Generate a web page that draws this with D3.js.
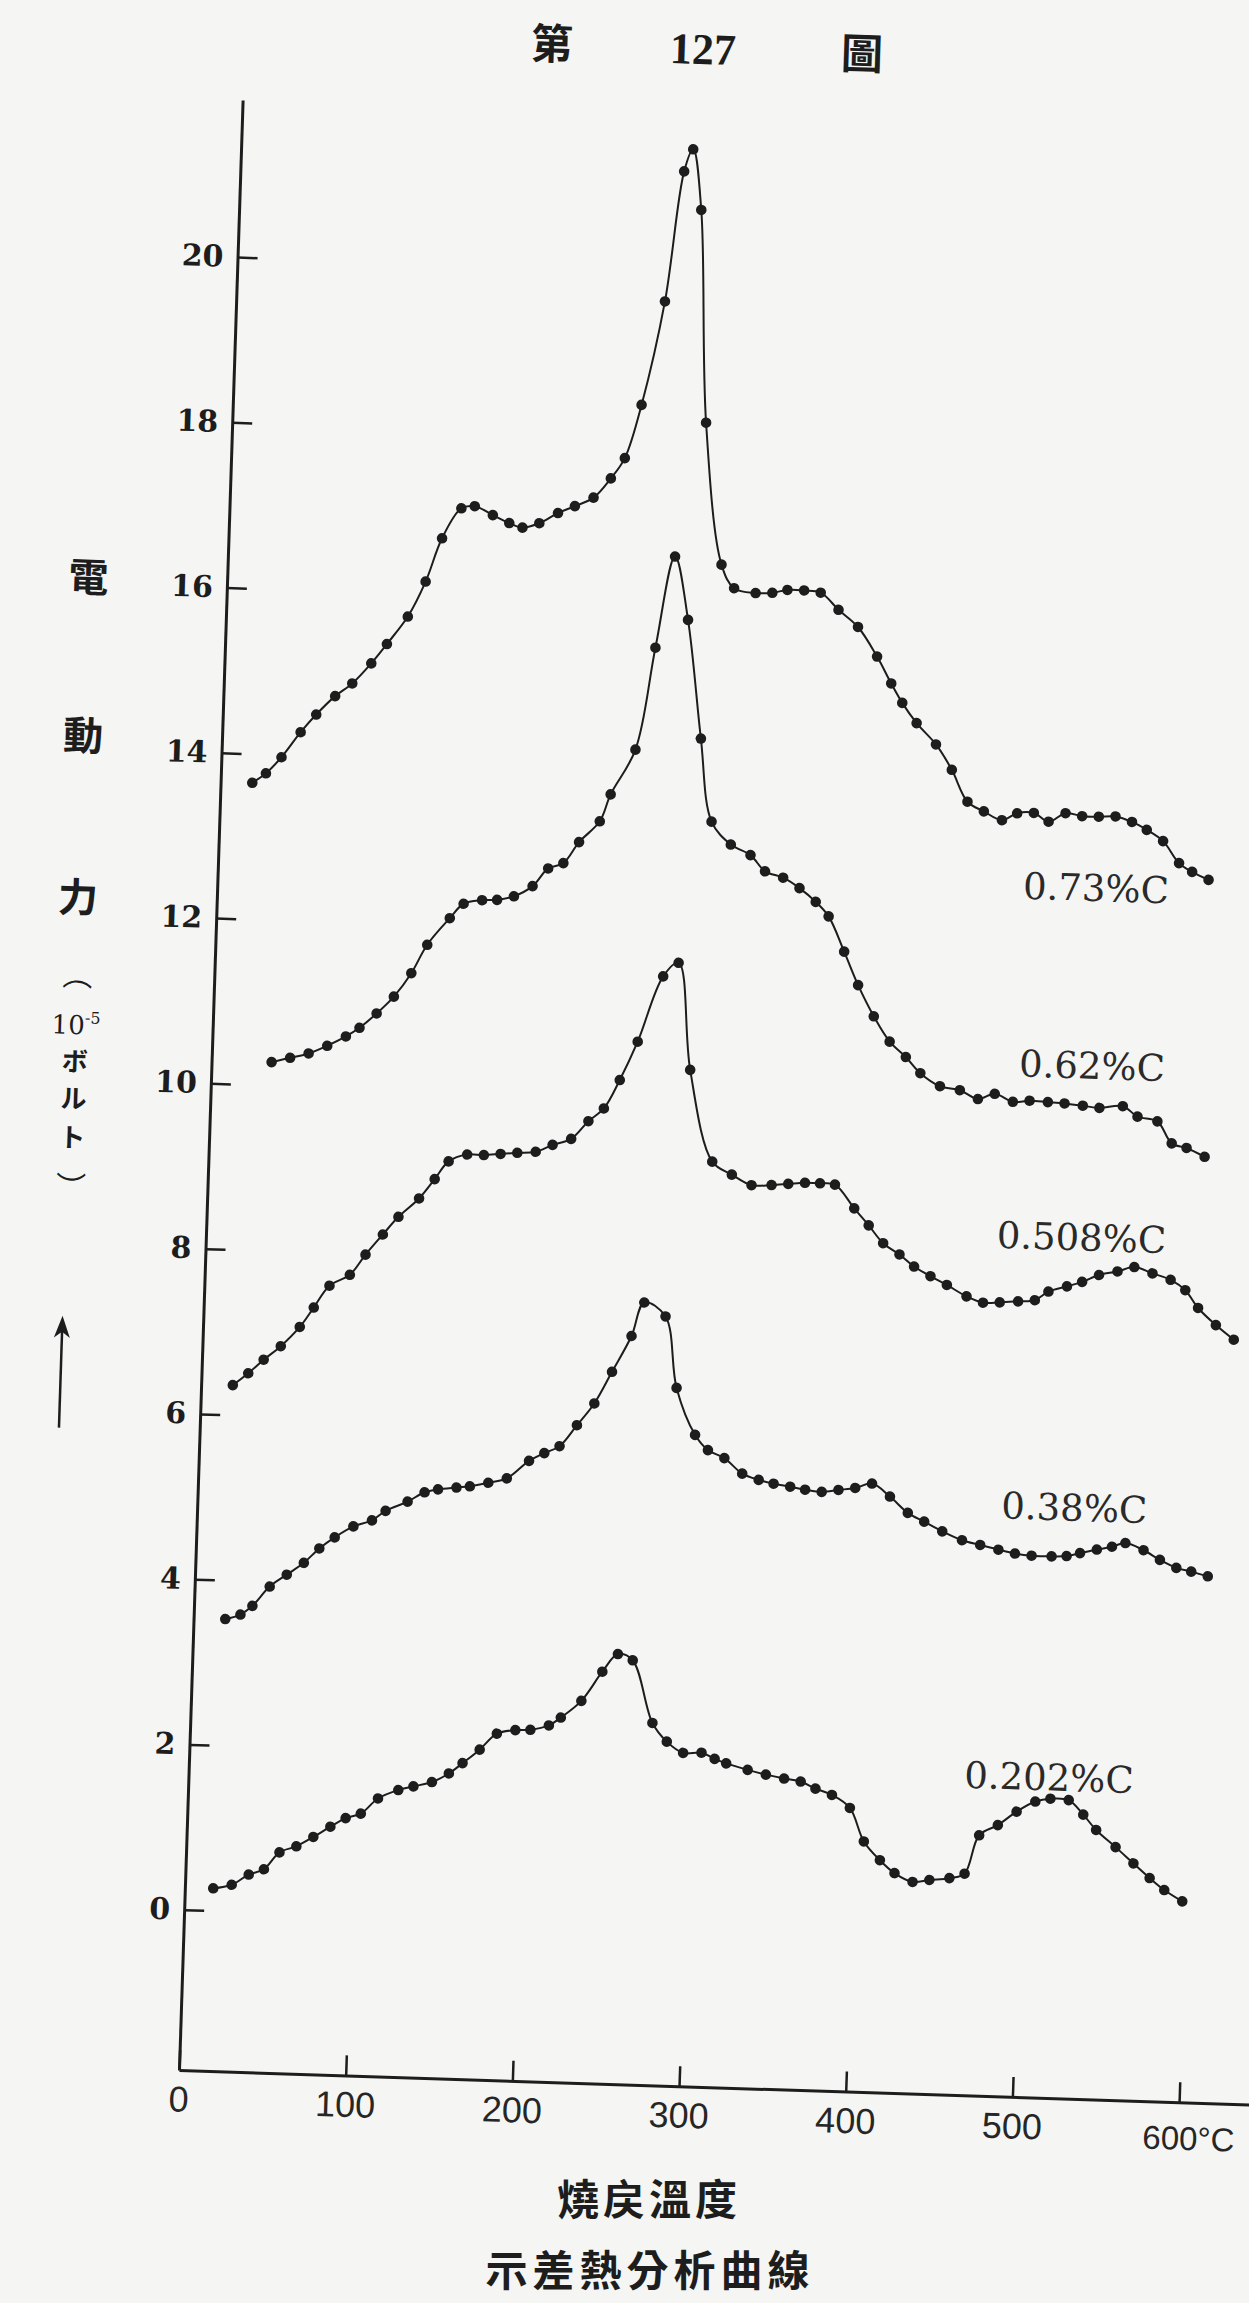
<!DOCTYPE html>
<html>
<head>
<meta charset="utf-8">
<script src="https://cdn.jsdelivr.net/npm/d3@7"></script>
<style>
  html, body { margin: 0; padding: 0; background: #f5f5f3; }
  svg { display: block; }
</style>
</head>
<body>
<svg id="chart" width="1249" height="2303"></svg>
<script>
// Differential thermal analysis of tempered carbon steels.
// Temperature (°C) and e.m.f. (10^-5 V) readings for each steel.

const seriesNames = ["0.73%C", "0.62%C", "0.508%C", "0.38%C", "0.202%C"];

const temp073 = [19, 27, 36, 47, 56, 67, 77, 88, 97, 109, 119, 128, 139, 147, 158, 168, 176, 186, 197, 207, 218, 228, 236, 245, 257, 266, 271, 277, 284, 296, 304, 317, 327, 336, 346, 356, 367, 379, 391, 400, 407, 416, 428, 438, 448, 458, 469, 478, 488, 497, 507, 517, 527, 537, 547, 556, 566, 576, 584, 594];
const emf073  = [13.65, 13.77, 13.97, 14.28, 14.50, 14.73, 14.89, 15.14, 15.38, 15.72, 16.15, 16.68, 17.05, 17.08, 16.98, 16.89, 16.84, 16.90, 17.03, 17.12, 17.23, 17.47, 17.72, 18.37, 19.63, 21.21, 21.48, 20.75, 18.18, 16.47, 16.19, 16.14, 16.15, 16.19, 16.19, 16.17, 15.97, 15.77, 15.42, 15.10, 14.87, 14.63, 14.38, 14.08, 13.70, 13.59, 13.49, 13.58, 13.59, 13.49, 13.60, 13.57, 13.57, 13.58, 13.52, 13.43, 13.30, 13.04, 12.94, 12.85];

const temp062 = [36, 47, 58, 69, 80, 88, 98, 108, 118, 127, 140, 148, 159, 168, 178, 189, 198, 207, 216, 228, 234, 248, 258, 268, 277, 287, 295, 307, 319, 328, 339, 349, 359, 367, 377, 386, 396, 406, 416, 425, 437, 449, 460, 470, 481, 491, 502, 512, 523, 533, 547, 556, 568, 577, 586, 597];
const emf062  = [10.28, 10.34, 10.40, 10.50, 10.62, 10.73, 10.91, 11.12, 11.41, 11.76, 12.09, 12.27, 12.32, 12.33, 12.38, 12.51, 12.73, 12.80, 13.06, 13.32, 13.65, 14.20, 15.44, 16.55, 15.79, 14.36, 13.36, 13.09, 12.97, 12.78, 12.71, 12.59, 12.43, 12.26, 11.84, 11.44, 11.07, 10.77, 10.59, 10.40, 10.25, 10.21, 10.11, 10.18, 10.09, 10.11, 10.10, 10.09, 10.07, 10.05, 10.08, 9.96, 9.91, 9.65, 9.60, 9.50];

const temp0508 = [19, 28, 37, 47, 58, 66, 75, 87, 96, 106, 115, 127, 136, 144, 155, 165, 175, 185, 196, 206, 217, 227, 236, 245, 255, 269, 278, 287, 302, 314, 326, 338, 348, 358, 367, 376, 388, 397, 406, 416, 425, 435, 445, 457, 467, 477, 488, 498, 506, 517, 526, 536, 547, 557, 568, 579, 588, 596, 607, 618];
const emf0508  = [6.36, 6.51, 6.68, 6.85, 7.09, 7.33, 7.60, 7.74, 7.99, 8.24, 8.46, 8.69, 8.93, 9.15, 9.24, 9.24, 9.26, 9.28, 9.30, 9.39, 9.47, 9.69, 9.85, 10.20, 10.67, 11.47, 11.64, 10.35, 9.25, 9.10, 8.98, 8.99, 9.01, 9.03, 9.03, 9.02, 8.74, 8.54, 8.33, 8.20, 8.06, 7.95, 7.85, 7.72, 7.65, 7.66, 7.68, 7.70, 7.81, 7.88, 7.94, 8.03, 8.08, 8.14, 8.07, 8.00, 7.88, 7.67, 7.47, 7.30];

const temp038 = [19, 28, 35, 45, 55, 65, 74, 83, 94, 105, 113, 126, 136, 144, 155, 163, 174, 185, 198, 207, 216, 226, 236, 246, 257, 264, 277, 285, 297, 305, 315, 326, 336, 345, 355, 364, 374, 384, 394, 404, 415, 426, 436, 447, 459, 470, 481, 491, 501, 513, 522, 530, 540, 549, 557, 568, 578, 588, 597, 607];
const emf038  = [3.53, 3.59, 3.70, 3.94, 4.09, 4.24, 4.42, 4.56, 4.70, 4.78, 4.90, 5.02, 5.14, 5.18, 5.21, 5.23, 5.28, 5.34, 5.56, 5.66, 5.75, 6.01, 6.28, 6.67, 7.11, 7.52, 7.36, 6.50, 5.94, 5.76, 5.67, 5.49, 5.42, 5.38, 5.35, 5.32, 5.30, 5.33, 5.36, 5.42, 5.27, 5.08, 4.98, 4.87, 4.77, 4.72, 4.67, 4.63, 4.61, 4.61, 4.62, 4.66, 4.71, 4.75, 4.80, 4.72, 4.61, 4.52, 4.48, 4.43];

const temp0202 = [17, 28, 38, 47, 56, 66, 76, 86, 95, 104, 114, 126, 135, 146, 156, 164, 174, 184, 195, 204, 215, 222, 234, 246, 255, 264, 277, 286, 296, 307, 315, 322, 335, 346, 357, 367, 376, 386, 397, 406, 416, 425, 436, 446, 458, 467, 475, 486, 497, 508, 517, 528, 537, 545, 557, 568, 578, 587, 598];
const emf0202  = [0.27, 0.32, 0.45, 0.52, 0.73, 0.81, 0.93, 1.06, 1.17, 1.23, 1.42, 1.53, 1.58, 1.64, 1.75, 1.88, 2.05, 2.25, 2.30, 2.31, 2.37, 2.47, 2.68, 3.04, 3.26, 3.19, 2.44, 2.22, 2.09, 2.10, 2.03, 1.98, 1.91, 1.86, 1.82, 1.79, 1.71, 1.64, 1.49, 1.09, 0.87, 0.72, 0.62, 0.65, 0.68, 0.74, 1.21, 1.34, 1.51, 1.64, 1.68, 1.67, 1.50, 1.32, 1.12, 0.93, 0.76, 0.62, 0.49];

const xTickValues = [0, 100, 200, 300, 400, 500, 600];
const yTickValues = [0, 2, 4, 6, 8, 10, 12, 14, 16, 18, 20];

// ---- layout ----
const W = 1249, H = 2303;
const ink = "#1d1d1d";
const tilt = 1.85;               // the printed plate sits slightly askew
const origin = [179, 2070];      // lower-left corner of the axes

const series = [
  { name: seriesNames[0], t: temp073,  v: emf073,  label: [483, 12.55] },
  { name: seriesNames[1], t: temp062,  v: emf062,  label: [484, 10.40] },
  { name: seriesNames[2], t: temp0508, v: emf0508, label: [474, 8.32] },
  { name: seriesNames[3], t: temp038,  v: emf038,  label: [482, 5.05] },
  { name: seriesNames[4], t: temp0202, v: emf0202, label: [465, 1.78] }
];

const svg = d3.select("#chart");
svg.append("rect").attr("width", W).attr("height", H).attr("fill", "#f5f5f3");

const plate = svg.append("g")
  .attr("transform", `translate(${origin[0]},${origin[1]}) rotate(${tilt})`);

const x = d3.scaleLinear().domain([0, 650]).range([0, 1084]);
const y = d3.scaleLinear().domain([-1.94, 21.9]).range([0, -1971]);

// y axis: ticks point into the plot, bold figures on the left
const yAxis = d3.axisLeft(y)
  .tickValues(yTickValues)
  .tickSizeInner(-20).tickSizeOuter(0).tickPadding(14)
  .tickFormat(d3.format("d"));
const gy = plate.append("g").call(yAxis);
gy.select(".domain").attr("stroke", ink).attr("stroke-width", 3);
gy.selectAll(".tick line").attr("stroke", ink).attr("stroke-width", 2.5);
gy.selectAll(".tick text")
  .attr("font-family", "'DejaVu Serif', serif")
  .attr("font-weight", "bold")
  .attr("font-size", 30)
  .attr("fill", ink);

// x axis: ticks point up, light figures below
const xAxis = d3.axisBottom(x)
  .tickValues(xTickValues)
  .tickSizeInner(-20).tickSizeOuter(0).tickPadding(16)
  .tickFormat(d => d === 600 ? "600°C" : String(d));
const gx = plate.append("g").call(xAxis);
gx.select(".domain").attr("stroke", ink).attr("stroke-width", 3);
gx.selectAll(".tick line").attr("stroke", ink).attr("stroke-width", 2.5);
gx.selectAll(".tick text")
  .attr("font-family", "'Liberation Sans', sans-serif")
  .attr("font-size", 36)
  .attr("fill", "#262626");
gx.selectAll(".tick text").filter(d => d === 600)
  .attr("font-size", 33)
  .attr("text-anchor", "start").attr("dx", -36).attr("dy", "0.95em");

// curves with their measured points
const line = d3.line()
  .x(d => x(d[0]))
  .y(d => y(d[1]))
  .curve(d3.curveCatmullRom.alpha(0.5));

series.forEach(s => {
  const pts = d3.zip(s.t, s.v);
  plate.append("path")
    .attr("d", line(pts))
    .attr("fill", "none")
    .attr("stroke", ink)
    .attr("stroke-width", 2);
  plate.append("g").selectAll("circle")
    .data(pts)
    .join("circle")
    .attr("cx", d => x(d[0]))
    .attr("cy", d => y(d[1]))
    .attr("r", 5.3)
    .attr("fill", ink);
  plate.append("text")
    .attr("x", x(s.label[0]))
    .attr("y", y(s.label[1]))
    .attr("font-family", "'DejaVu Serif', serif")
    .attr("font-size", 37)
    .attr("fill", "#2a2a2a")
    .text(s.name);
});

// figure number
const cjk = "'Noto Sans CJK TC', 'Noto Sans CJK JP', sans-serif";
const cjkJP = "'Noto Sans CJK JP', 'Noto Sans CJK TC', sans-serif";
const head = svg.append("g").attr("transform", `rotate(${tilt}, 703, 50)`);
head.append("text").attr("x", 552).attr("y", 64).attr("text-anchor", "middle")
  .attr("font-family", cjk).attr("font-weight", "bold").attr("font-size", 42).attr("fill", ink).text("第");
head.append("text").attr("x", 703).attr("y", 64).attr("text-anchor", "middle")
  .attr("font-family", "'Liberation Serif', serif").attr("font-weight", "bold").attr("font-size", 44).attr("fill", ink).text("127");
head.append("text").attr("x", 862).attr("y", 64).attr("text-anchor", "middle")
  .attr("font-family", cjk).attr("font-weight", "bold").attr("font-size", 42).attr("fill", ink).text("圖");

// axis titles below
svg.append("text").attr("x", 649).attr("y", 2215).attr("text-anchor", "middle")
  .attr("font-family", cjk).attr("font-weight", "bold").attr("font-size", 42)
  .attr("letter-spacing", 4).attr("fill", ink).text("燒戻溫度");
svg.append("text").attr("x", 650).attr("y", 2286).attr("text-anchor", "middle")
  .attr("font-family", cjk).attr("font-weight", "bold").attr("font-size", 42)
  .attr("letter-spacing", 5).attr("fill", ink).text("示差熱分析曲線");

// vertical y-axis title: 電動力 (10^-5 ボルト) ↑
const yt = svg.append("g").attr("transform", `rotate(${tilt}, 78, 900)`);
[["電", 578], ["動", 736], ["力", 898]].forEach(([c, cy]) => {
  yt.append("text").attr("x", 78).attr("y", cy + 14).attr("text-anchor", "middle")
    .attr("font-family", cjk).attr("font-weight", "bold").attr("font-size", 40)
    .attr("fill", ink).text(c);
});
yt.append("text").attr("x", 80).attr("y", 986).attr("text-anchor", "middle")
  .attr("font-family", cjkJP).attr("font-size", 30).attr("fill", ink).text("︵");
const pw = yt.append("text").attr("x", 80).attr("y", 1034).attr("text-anchor", "middle")
  .attr("font-family", "'DejaVu Serif', serif").attr("font-size", 26).attr("fill", ink);
pw.append("tspan").text("10");
pw.append("tspan").attr("dy", -11).attr("font-size", 16).text("-5");
[["ボ", 1071], ["ル", 1108], ["ト", 1147]].forEach(([c, cy]) => {
  yt.append("text").attr("x", 80).attr("y", cy).attr("text-anchor", "middle")
    .attr("font-family", cjkJP).attr("font-weight", "bold").attr("font-size", 26)
    .attr("fill", ink).text(c);
});
yt.append("text").attr("x", 80).attr("y", 1198).attr("text-anchor", "middle")
  .attr("font-family", cjkJP).attr("font-size", 30).attr("fill", ink).text("︶");
// upward arrow
yt.append("line").attr("x1", 76).attr("y1", 1428).attr("x2", 76).attr("y2", 1326)
  .attr("stroke", ink).attr("stroke-width", 2.5);
yt.append("path").attr("d", "M76,1316 L68,1338 L76,1332 L84,1338 Z").attr("fill", ink);
</script>
</body>
</html>
